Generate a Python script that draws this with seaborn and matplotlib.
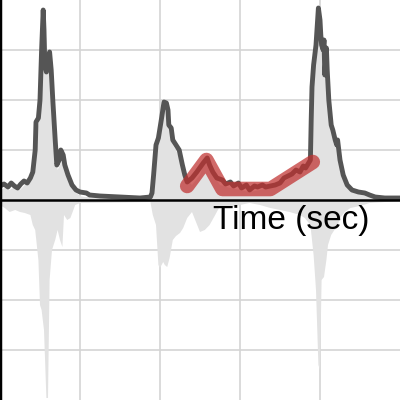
import matplotlib
matplotlib.use('Agg')
import matplotlib.pyplot as plt
import seaborn as sns

# envelope of the signal (dark grey line)
t_env = [0.00, 0.05, 0.10, 0.14, 0.18, 0.22, 0.26, 0.30, 0.34, 0.38, 0.41, 0.44, 0.45, 0.48,
         0.50, 0.52, 0.54, 0.55, 0.56, 0.58, 0.60, 0.62, 0.64, 0.66, 0.69, 0.71, 0.74, 0.76,
         0.79, 0.81, 0.85, 0.90, 0.95, 1.00, 1.08, 1.12, 1.25, 1.50, 1.75, 1.88, 1.90, 1.92,
         1.95, 1.98, 2.00, 2.02, 2.05, 2.08, 2.10, 2.11, 2.14, 2.16, 2.20, 2.24, 2.28, 2.31,
         2.34, 2.40, 2.46, 2.54, 2.59, 2.62, 2.66, 2.71, 2.78, 2.82, 2.88, 2.92, 2.98, 3.02,
         3.08, 3.12, 3.18, 3.22, 3.28, 3.32, 3.38, 3.44, 3.50, 3.55, 3.60, 3.65, 3.70, 3.75,
         3.79, 3.82, 3.88, 3.89, 3.90, 3.92, 3.95, 3.98, 4.00, 4.01, 4.02, 4.04, 4.05, 4.06,
         4.08, 4.09, 4.11, 4.14, 4.16, 4.19, 4.21, 4.22, 4.25, 4.29, 4.34, 4.40, 4.48, 4.56,
         4.62, 4.69, 4.81, 5.00]
env = [0.28, 0.32, 0.26, 0.34, 0.28, 0.24, 0.32, 0.38, 0.34, 0.44, 0.56, 1.00, 1.56, 1.64,
       2.00, 3.00, 3.80, 3.40, 2.70, 2.56, 2.80, 2.96, 2.60, 2.00, 1.20, 0.70, 0.80, 1.00,
       0.90, 0.70, 0.50, 0.30, 0.20, 0.16, 0.14, 0.10, 0.08, 0.06, 0.04, 0.06, 0.14, 0.50,
       1.10, 1.24, 1.44, 1.64, 1.96, 1.94, 1.80, 1.50, 1.44, 1.20, 1.10, 1.00, 0.70, 0.50,
       0.36, 0.44, 0.56, 0.74, 0.84, 0.70, 0.56, 0.44, 0.40, 0.32, 0.36, 0.28, 0.34, 0.24,
       0.30, 0.20, 0.28, 0.26, 0.30, 0.26, 0.28, 0.30, 0.34, 0.44, 0.48, 0.52, 0.60, 0.56,
       0.68, 0.64, 0.80, 1.60, 2.26, 2.70, 3.10, 3.84, 3.60, 3.30, 3.10, 3.00, 3.20, 2.50,
       3.04, 2.60, 2.00, 1.50, 1.40, 1.20, 1.10, 1.20, 0.80, 0.50, 0.30, 0.20, 0.16, 0.14,
       0.10, 0.06, 0.04, 0.04]

# raw waveform (light grey band)
t_wave = [0.00, 0.06, 0.12, 0.19, 0.25, 0.31, 0.38, 0.41, 0.44, 0.48, 0.50, 0.52, 0.55, 0.58,
          0.60, 0.62, 0.65, 0.69, 0.72, 0.75, 0.78, 0.80, 0.84, 0.88, 0.94, 1.00, 1.06, 1.88,
          1.91, 1.95, 1.98, 2.00, 2.04, 2.06, 2.09, 2.12, 2.16, 2.20, 2.25, 2.29, 2.34, 2.40,
          2.50, 2.56, 2.62, 2.69, 2.75, 2.88, 3.00, 3.12, 3.25, 3.38, 3.50, 3.62, 3.75, 3.81,
          3.88, 3.90, 3.92, 3.95, 3.98, 4.00, 4.02, 4.05, 4.08, 4.10, 4.14, 4.18, 4.21, 4.25,
          4.31, 4.38, 4.50, 4.62, 4.81, 5.00]
wave_hi = [0.20, 0.24, 0.20, 0.26, 0.20, 0.30, 0.36, 0.50, 1.20, 1.50, 1.80, 2.80, 3.60, 3.20,
           2.80, 2.80, 2.20, 1.40, 0.60, 0.70, 0.80, 0.70, 0.50, 0.30, 0.16, 0.08, 0.06, 0.04,
           0.16, 1.00, 1.20, 1.40, 1.80, 1.90, 1.80, 1.40, 1.10, 1.00, 0.80, 0.60, 0.40, 0.30,
           0.50, 0.80, 0.64, 0.44, 0.30, 0.24, 0.20, 0.16, 0.20, 0.24, 0.30, 0.44, 0.56, 0.64,
           0.80, 2.20, 2.60, 3.20, 3.76, 3.50, 3.10, 3.00, 3.00, 2.00, 1.50, 1.30, 1.10, 0.80,
           0.50, 0.24, 0.16, 0.10, 0.06, 0.04]
wave_lo = [-0.10, -0.16, -0.24, -0.20, -0.24, -0.26, -0.30, -0.50, -0.60, -1.20, -2.10, -2.20,
           -2.60, -3.96, -3.96, -1.60, -1.00, -0.80, -0.60, -0.80, -0.94, -0.30, -0.40, -0.36,
           -0.10, -0.06, -0.06, -0.04, -0.30, -0.50, -1.30, -1.36, -1.24, -1.30, -1.34, -1.16,
           -0.80, -0.72, -0.66, -0.56, -0.36, -0.24, -0.64, -0.60, -0.50, -0.30, -0.12, -0.14,
           -0.10, -0.06, -0.10, -0.16, -0.20, -0.24, -0.30, -0.36, -0.50, -0.80, -1.10, -1.80,
           -3.30, -3.40, -1.60, -1.54, -1.20, -0.90, -0.70, -0.60, -0.56, -0.36, -0.24, -0.16,
           -0.12, -0.06, -0.04, -0.02]

# highlighted segment (red)
t_sel = [2.34, 2.58, 2.78, 3.38, 3.91]
y_sel = [0.28, 0.80, 0.22, 0.22, 0.76]

sns.set_style('white')
plt.rcParams['font.family'] = ['Liberation Sans', 'DejaVu Sans']

fig = plt.figure(figsize=(4, 4), dpi=100)
ax = fig.add_axes([0, 0, 1, 1])

ax.fill_between(t_wave, wave_lo, wave_hi, color='#e2e2e2', linewidth=0, zorder=1)
sns.lineplot(x=t_env, y=env, ax=ax, color='#555555', linewidth=3.5,
             estimator=None, sort=False, zorder=2)
ax.plot(t_sel, y_sel, color='#c0302f', alpha=0.72, linewidth=10.5,
        solid_capstyle='round', solid_joinstyle='round', zorder=3)

ax.axhline(0, color='black', linewidth=1.8, zorder=4)

ax.set_xlim(0, 5)
ax.set_ylim(-4, 4)
ax.set_xticks([1, 2, 3, 4])
ax.set_yticks([-3, -2, -1, 1, 2, 3])
ax.set_xticklabels([])
ax.set_yticklabels([])
ax.tick_params(length=0)
ax.grid(True, color='#d4d4d4', linewidth=1.2)
ax.set_axisbelow(True)

for s in ['top', 'right', 'bottom']:
    ax.spines[s].set_visible(False)
ax.spines['left'].set_color('black')
ax.spines['left'].set_linewidth(2.5)

ax.text(2.66, -0.1, 'Time (sec)', fontsize=24, ha='left', va='top', color='black', zorder=5)

fig.savefig('out.png', dpi=100)
